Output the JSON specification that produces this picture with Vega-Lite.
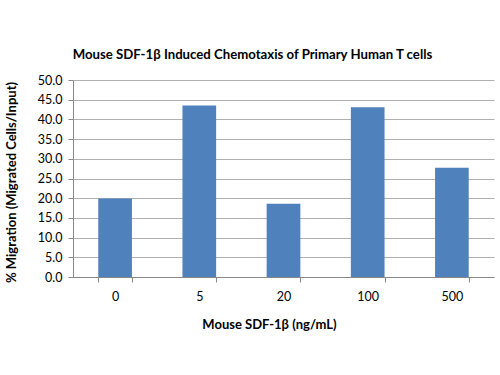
{
  "$schema": "https://vega.github.io/schema/vega-lite/v6.json",
  "width": 421,
  "height": 197,
  "autosize": {"type": "none"},
  "padding": {"left": 73, "top": 80, "right": 6, "bottom": 98},
  "background": "white",
  "title": {
    "text": "Mouse SDF-1β Induced Chemotaxis of Primary Human T cells",
    "font": "Lato",
    "fontSize": 13.2,
    "fontWeight": "bold",
    "color": "#000000",
    "anchor": "middle",
    "dx": -31,
    "offset": 12
  },
  "data": {
    "values": [
      {"dose": "0", "migration": 19.9},
      {"dose": "5", "migration": 43.5},
      {"dose": "20", "migration": 18.6},
      {"dose": "100", "migration": 43.1},
      {"dose": "500", "migration": 27.7}
    ]
  },
  "mark": {"type": "bar", "color": "#4F81BD"},
  "encoding": {
    "x": {
      "field": "dose",
      "type": "ordinal",
      "sort": null,
      "scale": {"paddingInner": 0.6, "paddingOuter": 0.3},
      "axis": {
        "title": "Mouse SDF-1β (ng/mL)",
        "titleFont": "Lato",
        "titleFontSize": 13,
        "titleFontWeight": "bold",
        "titleColor": "#000000",
        "titleX": 196,
        "titleY": 41,
        "labelAngle": 0,
        "labelFont": "Lato",
        "labelFontSize": 12.5,
        "labelColor": "#000000",
        "labelPadding": 8,
        "domainColor": "#888888",
        "tickColor": "#888888",
        "tickBand": "extent",
        "tickSize": 5,
        "grid": false
      }
    },
    "y": {
      "field": "migration",
      "type": "quantitative",
      "scale": {"domain": [0, 50], "nice": false},
      "axis": {
        "title": "% Migration (Migrated Cells/Input)",
        "titleFont": "Lato",
        "titleFontSize": 13,
        "titleFontWeight": "bold",
        "titleColor": "#000000",
        "titleX": -55,
        "titleY": 102,
        "values": [0, 5, 10, 15, 20, 25, 30, 35, 40, 45, 50],
        "format": ".1f",
        "labelFont": "Lato",
        "labelFontSize": 12.5,
        "labelColor": "#000000",
        "labelPadding": 6,
        "domainColor": "#888888",
        "tickColor": "#888888",
        "tickSize": 5,
        "gridColor": "#b0b0b0",
        "gridWidth": 1,
        "gridOpacity": 1
      }
    }
  },
  "config": {"view": {"stroke": null}}
}
